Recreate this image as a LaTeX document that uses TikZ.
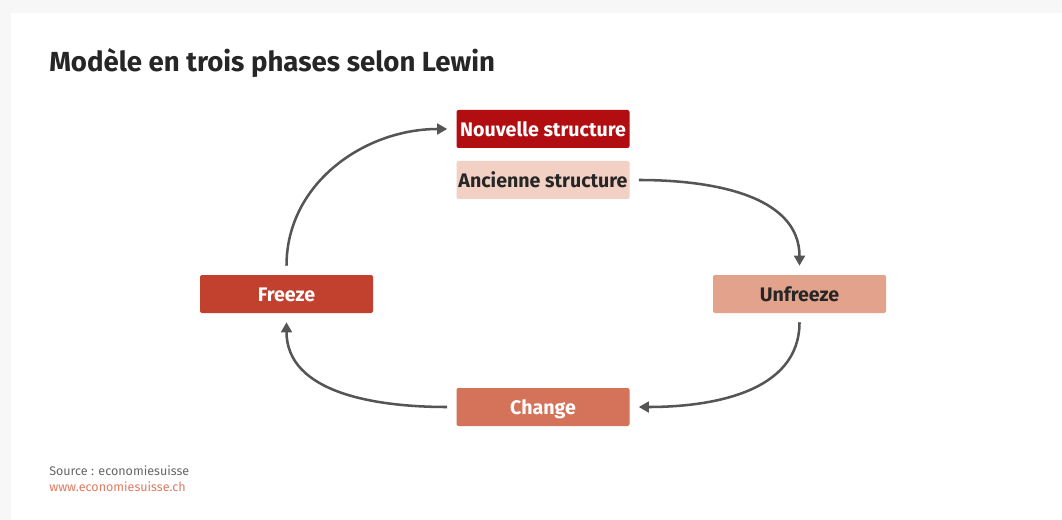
\documentclass[tikz,border=0pt]{standalone}
\usepackage{fontspec}
\setmainfont{Fira Sans}
\usetikzlibrary{arrows.meta}
\definecolor{bggray}{HTML}{F7F7F7}
\definecolor{darkred}{HTML}{B20E12}
\definecolor{palepink}{HTML}{F2D0C4}
\definecolor{freezecol}{HTML}{C2412E}
\definecolor{unfreezecol}{HTML}{E2A28B}
\definecolor{changecol}{HTML}{D4735A}
\definecolor{arrowgray}{HTML}{555555}
\definecolor{textdark}{HTML}{262626}
\definecolor{srcgray}{HTML}{666666}
\definecolor{linkcol}{HTML}{E07B62}
\tikzset{
  phase/.style={rounded corners=1.5pt, minimum width=129.75pt, minimum height=28.5pt,
    inner sep=0pt, text height=11.6pt, text depth=0pt,
    font=\fontsize{14.7}{16}\selectfont\bfseries},
  flow/.style={draw=arrowgray, line width=1.9pt, -{Triangle[length=7.5pt,width=8pt]}},
}
\begin{document}
\begin{tikzpicture}[x=0.75pt,y=-0.75pt]
\useasboundingbox (0,0) rectangle (1062,520);
\fill[bggray] (0,0) rectangle (1062,520);
\fill[white] (11,13) rectangle (1062,520);
\node[anchor=base west, inner sep=0pt, text=textdark, font=\fontsize{20.7}{24}\selectfont\bfseries] (title) at (49,72) {Modèle en trois phases selon Lewin};
\node[phase, fill=darkred, text=white] (nouv) at (543,129) {Nouvelle structure};
\node[phase, fill=palepink, text=textdark] (anc) at (543,180) {Ancienne structure};
\node[phase, fill=freezecol, text=white] (freeze) at (286.5,294) {Freeze};
\node[phase, fill=unfreezecol, text=textdark] (unfreeze) at (799.5,294) {Unfreeze};
\node[phase, fill=changecol, text=white] (change) at (543,407) {Change};
\draw[flow] ([xshift=6.75pt]anc.east) to[out=0,in=90] ([yshift=6.75pt]unfreeze.north);
\draw[flow] ([yshift=-6.75pt]unfreeze.south) to[out=-90,in=0] ([xshift=6.75pt]change.east);
\draw[flow] ([xshift=-6.75pt]change.west) to[out=180,in=-90] ([yshift=-6.75pt]freeze.south);
\draw[flow] ([yshift=6.75pt]freeze.north) to[out=90,in=180] ([xshift=-6.75pt]nouv.west);
\node[anchor=base west, inner sep=0pt, text=srcgray, font=\fontsize{9.4}{11}\selectfont] (src) at (49,475) {Source : economiesuisse};
\node[anchor=base west, inner sep=0pt, text=linkcol, font=\fontsize{9.4}{11}\selectfont] (www) at (49,491) {www.economiesuisse.ch};
\end{tikzpicture}
\end{document}
